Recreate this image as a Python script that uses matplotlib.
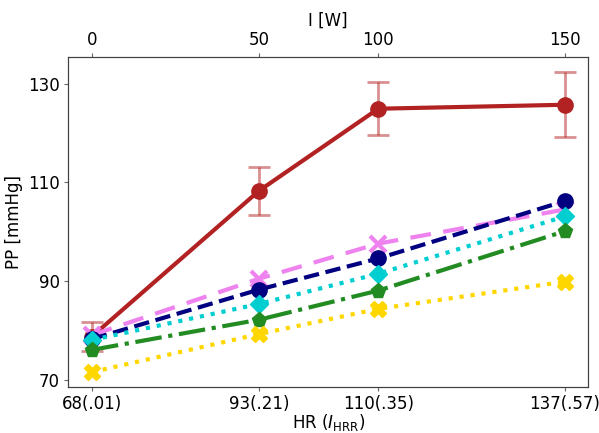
import matplotlib.pyplot as plt
import numpy as np

hr = [68, 92.4, 109.8, 137]
hr_labels = ["68(.01)", "93(.21)", "110(.35)", "137(.57)"]
watt_labels = ["0", "50", "100", "150"]

pp_red = [78.8, 108.3, 124.9, 125.7]
pp_red_err = [3.0, 4.9, 5.4, 6.6]
pp_navy = [78.3, 88.3, 94.6, 106.2]
pp_violet = [79.1, 90.5, 97.6, 104.5]
pp_cyan = [78.1, 85.4, 91.5, 103.1]
pp_green = [76.1, 82.2, 88.1, 100.1]
pp_gold = [71.6, 79.3, 84.4, 89.9]

fs = 12
fig, ax = plt.subplots(figsize=(5.99, 4.33), dpi=100)
fig.subplots_adjust(left=0.114, right=0.982, top=0.868, bottom=0.106)

ax.errorbar(hr, pp_red, yerr=pp_red_err, fmt="none", ecolor="firebrick", alpha=0.5,
            elinewidth=2, capsize=8, capthick=2, zorder=2)
ax.plot(hr, pp_red, color="firebrick", marker="o", markersize=11, linewidth=3, zorder=3)
ax.plot(hr, pp_violet, color="violet", marker="x", markersize=11, markeredgewidth=3,
        linewidth=3, linestyle=(0, (5, 3)), zorder=3)
ax.plot(hr, pp_navy, color="navy", marker="o", markersize=11, linewidth=3, linestyle="--", zorder=3)
ax.plot(hr, pp_cyan, color="darkturquoise", marker="D", markersize=9, linewidth=3, linestyle=":", zorder=3)
ax.plot(hr, pp_green, color="forestgreen", marker="p", markersize=11, linewidth=3, linestyle="-.", zorder=3)
ax.plot(hr, pp_gold, color="gold", marker="X", markersize=12, linewidth=3, linestyle=":", zorder=3)

ax.set_xticks(hr)
ax.set_xticklabels(hr_labels, fontsize=fs)
ax.set_yticks([70, 90, 110, 130])
ax.tick_params(axis="y", labelsize=fs)
ax.set_xlabel(r"HR ($I_{\mathrm{HRR}}$)", fontsize=fs, labelpad=-1)
ax.set_ylabel("PP [mmHg]", fontsize=fs)

ax2 = ax.twiny()
ax2.set_xlim(ax.get_xlim())
ax2.set_xticks(hr)
ax2.set_xticklabels(watt_labels, fontsize=fs)
ax2.set_xlabel("I [W]", fontsize=fs)

for a in (ax, ax2):
    for s in a.spines.values():
        s.set_color("0.25")
    a.tick_params(color="0.4", length=3, pad=3)

plt.savefig("out.png", dpi=100)
